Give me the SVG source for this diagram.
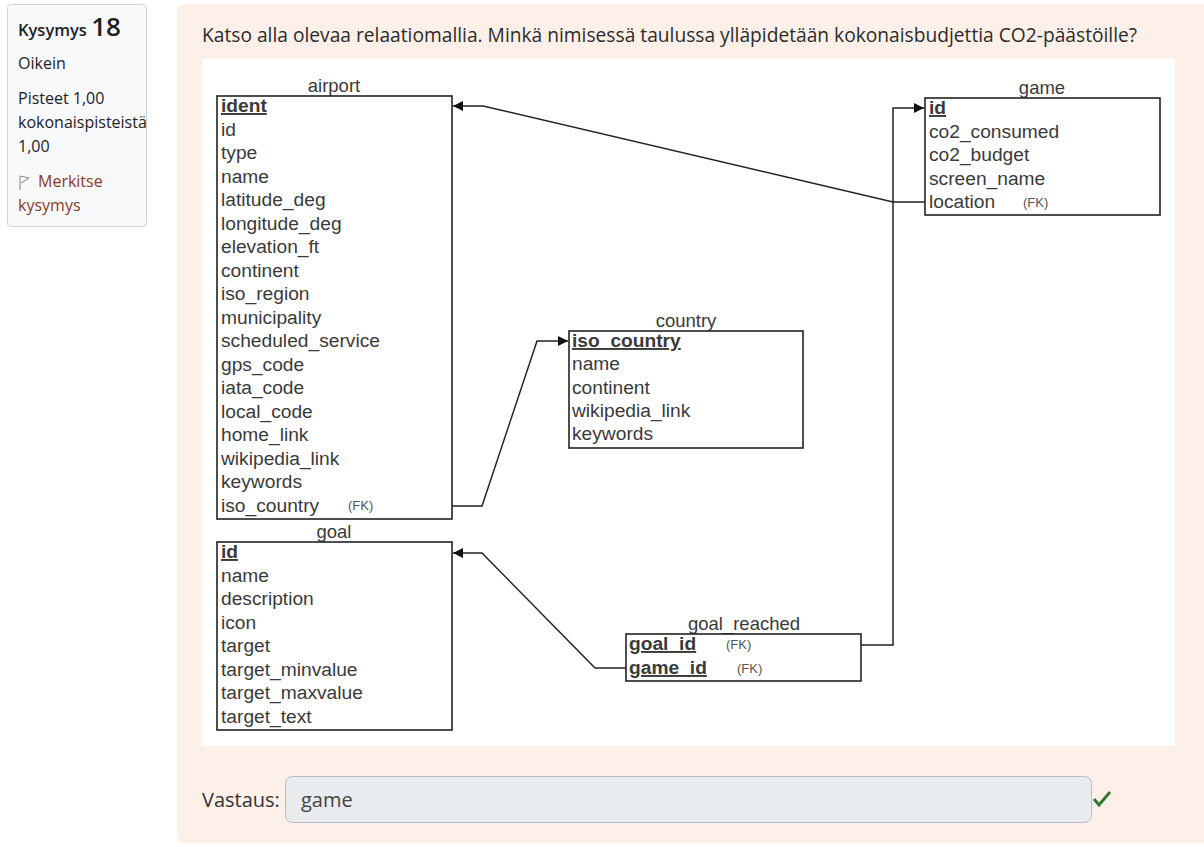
<svg xmlns="http://www.w3.org/2000/svg" width="1204" height="847" viewBox="0 0 1204 847">
<style>
.ui{font-family:"Open Sans","Noto Sans",sans-serif;}
.t{font-family:"Liberation Sans",Arial,sans-serif;font-size:19.2px;fill:#3a3a3a;}
.pk{font-weight:bold;text-decoration:underline;}
.fk{font-family:"Liberation Sans",Arial,sans-serif;font-size:13px;fill:#555;}
.ttl{font-family:"Liberation Sans",Arial,sans-serif;font-size:18.5px;fill:#3a3a3a;text-anchor:middle;}
.box{fill:#fff;stroke:#222;stroke-width:1.6;}
.con{fill:none;stroke:#222;stroke-width:1.5;}
</style>
<defs>
<marker id="arr" markerWidth="10" markerHeight="11" refX="10" refY="5" orient="auto" markerUnits="userSpaceOnUse" viewBox="0 0 10 10">
<path d="M0,0 L10,5 L0,10 Z" fill="#111"/>
</marker>
</defs>
<rect width="1204" height="847" fill="#fff"/>
<g id="info">
<rect x="7.5" y="4.5" width="139" height="222" rx="3" fill="#f8f9fa" stroke="#ced4da"/>
<text class="ui" x="18" y="36" font-size="16.5" font-weight="600" fill="#1d2125">Kysymys <tspan font-size="26" font-weight="600">18</tspan></text>
<text class="ui" x="18" y="69" font-size="16" fill="#1d2125">Oikein</text>
<text class="ui" x="18" y="104" font-size="16" fill="#1d2125">Pisteet 1,00</text>
<text class="ui" x="18" y="128" font-size="16" fill="#1d2125">kokonaispisteistä</text>
<text class="ui" x="18" y="152" font-size="16" fill="#1d2125">1,00</text>
<path d="M20,176 L20,190 M20,176 L29,178 L21,183" fill="none" stroke="#888" stroke-width="1"/>
<text class="ui" x="38" y="187" font-size="16" fill="#8a3a22">Merkitse</text>
<text class="ui" x="18" y="211" font-size="16" fill="#8a3a22">kysymys</text>
</g>
<g id="panel">
<rect x="177" y="4" width="1040" height="839" rx="8" fill="#fdf0e8"/>
<text class="ui" x="202" y="42" font-size="19.2" fill="#2b2b2b">Katso alla olevaa relaatiomallia. Minkä nimisessä taulussa ylläpidetään kokonaisbudjettia CO2-päästöille?</text>
<rect x="202" y="59" width="973" height="687" fill="#fff"/>
</g>
<g id="connectors">
<polyline class="con" points="925,202 893,202 483,106 453,106" marker-end="url(#arr)"/>
<polyline class="con" points="861,645 893,645 893,108 924,108" marker-end="url(#arr)"/>
<polyline class="con" points="452,506 482,506 537,341 568,341" marker-end="url(#arr)"/>
<polyline class="con" points="626,668 595,668 482,553 453,553" marker-end="url(#arr)"/>
</g>
<g id="airport">
<text class="ttl" x="334" y="92">airport</text>
<rect class="box" x="217" y="96" width="235" height="423"/>
<text class="t pk" x="221" y="112">ident</text>
<text class="t" x="221" y="135.5">id</text>
<text class="t" x="221" y="159">type</text>
<text class="t" x="221" y="182.5">name</text>
<text class="t" x="221" y="206">latitude_deg</text>
<text class="t" x="221" y="229.5">longitude_deg</text>
<text class="t" x="221" y="253">elevation_ft</text>
<text class="t" x="221" y="276.5">continent</text>
<text class="t" x="221" y="300">iso_region</text>
<text class="t" x="221" y="323.5">municipality</text>
<text class="t" x="221" y="347">scheduled_service</text>
<text class="t" x="221" y="370.5">gps_code</text>
<text class="t" x="221" y="394">iata_code</text>
<text class="t" x="221" y="417.5">local_code</text>
<text class="t" x="221" y="441">home_link</text>
<text class="t" x="221" y="464.5">wikipedia_link</text>
<text class="t" x="221" y="488">keywords</text>
<text class="t" x="221" y="511.5">iso_country</text>
<text class="fk" x="348" y="510">(FK)</text>
</g>
<g id="goal">
<text class="ttl" x="334" y="538">goal</text>
<rect class="box" x="217" y="542" width="235" height="188"/>
<text class="t pk" x="221" y="558">id</text>
<text class="t" x="221" y="581.5">name</text>
<text class="t" x="221" y="605">description</text>
<text class="t" x="221" y="628.5">icon</text>
<text class="t" x="221" y="652">target</text>
<text class="t" x="221" y="675.5">target_minvalue</text>
<text class="t" x="221" y="699">target_maxvalue</text>
<text class="t" x="221" y="722.5">target_text</text>
</g>
<g id="country">
<text class="ttl" x="686" y="327">country</text>
<rect class="box" x="569" y="331" width="234" height="117"/>
<text class="t pk" x="572" y="347">iso_country</text>
<text class="t" x="572" y="370.3">name</text>
<text class="t" x="572" y="393.6">continent</text>
<text class="t" x="572" y="416.9">wikipedia_link</text>
<text class="t" x="572" y="440.2">keywords</text>
</g>
<g id="game">
<text class="ttl" x="1042" y="94">game</text>
<rect class="box" x="925" y="98" width="235" height="117"/>
<text class="t pk" x="929" y="114">id</text>
<text class="t" x="929" y="137.5">co2_consumed</text>
<text class="t" x="929" y="161">co2_budget</text>
<text class="t" x="929" y="184.5">screen_name</text>
<text class="t" x="929" y="208">location</text>
<text class="fk" x="1023" y="207">(FK)</text>
</g>
<g id="goal_reached">
<text class="ttl" x="744" y="630">goal_reached</text>
<rect class="box" x="626" y="634" width="235" height="47"/>
<text class="t pk" x="629" y="650">goal_id</text>
<text class="fk" x="726" y="649">(FK)</text>
<text class="t pk" x="629" y="674">game_id</text>
<text class="fk" x="737" y="673">(FK)</text>
</g>
<g id="answer">
<text class="ui" x="202" y="807" font-size="20" fill="#333">Vastaus:</text>
<rect x="285.5" y="776.5" width="806" height="46" rx="7" fill="#e9ecef" stroke="#b8bec4"/>
<text class="ui" x="301" y="807" font-size="20" fill="#444">game</text>
<path d="M1094,799 L1099,805 L1110,792" fill="none" stroke="#357a32" stroke-width="3"/>
</g>
</svg>
